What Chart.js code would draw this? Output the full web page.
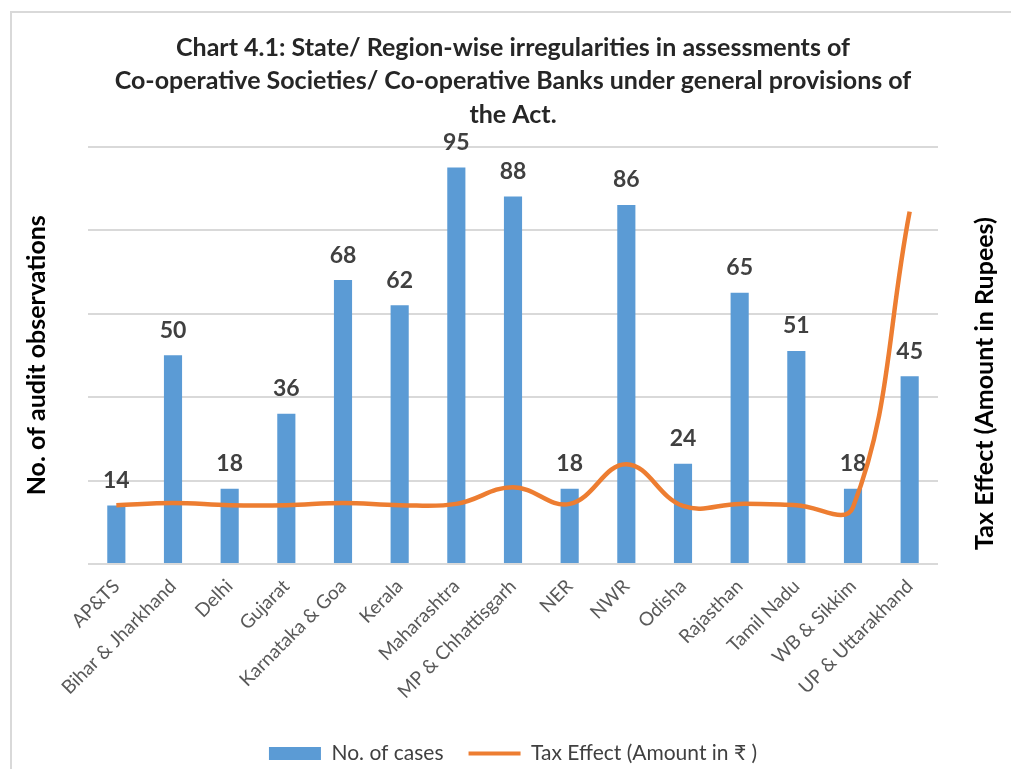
<!DOCTYPE html>
<html>
<head>
<meta charset="utf-8">
<title>Chart 4.1</title>
<script src="https://cdn.jsdelivr.net/npm/chart.js@4.4.1/dist/chart.umd.min.js"></script>
<style>
  html, body { margin: 0; padding: 0; background: #fff; }
  #wrap { width: 1011px; height: 769px; }
</style>
</head>
<body>
<div id="wrap"><canvas id="chart" width="1011" height="769"></canvas></div>
<script>
// data
const regions = ['AP&TS', 'Bihar & Jharkhand', 'Delhi', 'Gujarat', 'Karnataka & Goa', 'Kerala',
  'Maharashtra', 'MP & Chhattisgarh', 'NER', 'NWR', 'Odisha', 'Rajasthan', 'Tamil Nadu',
  'WB & Sikkim', 'UP & Uttarakhand'];
const noOfCases = [14, 50, 18, 36, 68, 62, 95, 88, 18, 86, 24, 65, 51, 18, 45];
// right axis has no tick labels in the source, values estimated on a 0-100 scale
const taxEffect = [14.1, 14.6, 14.1, 14.1, 14.6, 14.1, 14.4, 18.4, 14.4, 23.9, 13.9, 14.4, 14.1, 13.6, 84.4];
const casesTicks = [0, 20, 40, 60, 80, 100];

const BLUE = '#5B9BD5';
const ORANGE = '#ED7D31';
const FONT = 'Lato, "Open Sans", sans-serif';

// frame, bar value labels and the two vertical axis titles
const extras = {
  id: 'extras',
  beforeDraw(chart) {
    const ctx = chart.ctx;
    ctx.save();
    ctx.fillStyle = '#fff';
    ctx.fillRect(0, 0, chart.width, chart.height);
    ctx.strokeStyle = '#d9d9d9';
    ctx.lineWidth = 2;
    ctx.strokeRect(11, 12, chart.width + 20, chart.height + 20);
    ctx.restore();
  },
  afterDatasetDraw(chart, args) {
    if (args.index !== 0) return;
    const ctx = chart.ctx;
    ctx.save();
    ctx.font = 'bold 23px ' + FONT;
    ctx.fillStyle = '#404040';
    ctx.textAlign = 'center';
    ctx.textBaseline = 'middle';
    args.meta.data.forEach((bar, i) => {
      ctx.fillText(noOfCases[i], bar.x, bar.y - 25);
    });
    ctx.restore();
  },
  afterDraw(chart) {
    const ctx = chart.ctx;
    const a = chart.chartArea;
    ctx.save();
    ctx.font = 'bold 25px ' + FONT;
    ctx.fillStyle = '#000';
    ctx.textAlign = 'center';
    ctx.textBaseline = 'middle';
    ctx.translate(37, (a.top + a.bottom) / 2);
    ctx.rotate(-Math.PI / 2);
    ctx.fillText('No. of audit observations', 0, 0);
    ctx.restore();

    ctx.save();
    ctx.font = 'bold 25px ' + FONT;
    ctx.fillStyle = '#000';
    ctx.textAlign = 'center';
    ctx.textBaseline = 'middle';
    ctx.translate(985, a.top + 237);
    ctx.rotate(-Math.PI / 2);
    ctx.fillText('Tax Effect (Amount in Rupees)', 0, 0);
    ctx.restore();
  }
};

const ctx = document.getElementById('chart').getContext('2d');
new Chart(ctx, {
  type: 'bar',
  data: {
    labels: regions,
    datasets: [{
      type: 'bar',
      label: 'No. of cases',
      data: noOfCases,
      backgroundColor: BLUE,
      borderWidth: 0,
      categoryPercentage: 1,
      barPercentage: 0.32,
      yAxisID: 'y',
      order: 2
    }, {
      type: 'line',
      label: 'Tax Effect (Amount in \u20B9 )',
      data: taxEffect,
      borderColor: ORANGE,
      backgroundColor: ORANGE,
      borderWidth: 4.5,
      pointRadius: 0,
      tension: 0.4,
      yAxisID: 'y1',
      order: 1
    }]
  },
  options: {
    responsive: false,
    animation: false,
    layout: { padding: { top: 4, left: 88, right: 73, bottom: -5 } },
    plugins: {
      title: {
        display: true,
        text: ['Chart 4.1: State/ Region-wise irregularities in assessments of',
          'Co-operative Societies/ Co-operative Banks under general provisions of',
          'the Act.'],
        color: '#262626',
        font: { family: FONT, size: 25, weight: 'bold', lineHeight: 1.34 },
        padding: { top: 27, bottom: 15 }
      },
      legend: {
        position: 'bottom',
        labels: {
          usePointStyle: true,
          pointStyleWidth: 52,
          boxHeight: 13,
          padding: 25,
          color: '#404040',
          font: { family: FONT, size: 21 },
          generateLabels(chart) {
            const items = Chart.defaults.plugins.legend.labels.generateLabels(chart);
            items.sort((p, q) => p.datasetIndex - q.datasetIndex);
            items.forEach(item => {
              if (item.datasetIndex === 0) {
                item.pointStyle = 'rect';
                item.fillStyle = BLUE;
                item.strokeStyle = BLUE;
                item.lineWidth = 0;
              } else {
                item.pointStyle = 'line';
                item.strokeStyle = ORANGE;
                item.lineWidth = 4;
              }
            });
            return items;
          }
        }
      },
      tooltip: { enabled: false }
    },
    scales: {
      x: {
        grid: { display: false },
        border: { display: false },
        ticks: {
          color: '#595959',
          font: { family: FONT, size: 19 },
          minRotation: 45,
          maxRotation: 45,
          autoSkip: false
        },
        afterFit(scale) { scale.height = 154; }
      },
      y: {
        min: casesTicks[0],
        max: casesTicks[casesTicks.length - 1],
        afterBuildTicks(scale) { scale.ticks = casesTicks.map(v => ({ value: v })); },
        ticks: { display: false },
        border: { display: false },
        grid: { color: '#d9d9d9', lineWidth: 2, drawTicks: false }
      },
      y1: {
        display: false,
        position: 'right',
        min: 0,
        max: 100
      }
    }
  },
  plugins: [extras]
});
</script>
</body>
</html>
